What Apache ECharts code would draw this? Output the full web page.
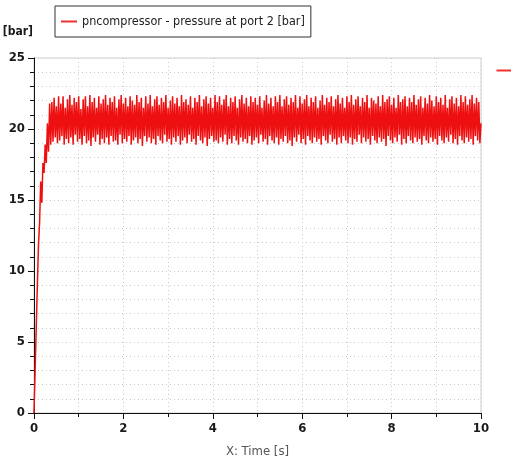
<!DOCTYPE html>
<html>
<head>
<meta charset="utf-8">
<script src="https://cdn.jsdelivr.net/npm/echarts@6/dist/echarts.min.js"></script>
<style>
  html, body { margin: 0; padding: 0; background: #fff; }
  #chart { width: 511px; height: 461px; }
</style>
</head>
<body>
<div id="chart"></div>
<script>
var seriesName = 'pncompressor - pressure at port 2 [bar]';
var yUnit = '[bar]';
var xTitle = 'X: Time [s]';
// sample step of the recorded signal [s]
var sampleStep = 0.025;
// start-up ramp, 0 .. 0.45 s
var rampPressure = [0, 3.0, 6.0, 9.0, 11.8, 13.4, 16.3, 14.8, 17.6, 16.9, 18.9, 17.6, 20.4, 18.4, 21.8, 18.9, 21.9, 19.1, 22.2];
// steady oscillation, 0.475 .. 10 s (low, high pairs)
var steadyPressure = [
  19.4,21.6, 19.0,22.3, 19.2,21.8, 19.5,22.3, 18.9,21.5, 19.3,22.1, 19.0,22.4, 19.4,21.7, 18.9,22.2,
  19.6,21.9, 19.1,22.3, 19.3,21.4, 18.9,22.1, 19.5,22.3, 19.0,21.6, 19.2,22.4, 18.8,21.9, 19.4,22.2, 19.1,21.5,
  19.6,22.3, 18.9,21.8, 19.3,22.1, 19.0,22.4, 19.4,21.7, 18.9,22.2, 19.5,21.9, 19.1,22.3, 19.2,21.5, 18.9,22.1,
  19.6,22.4, 19.0,21.8, 19.3,22.2, 19.1,21.6, 19.5,22.3, 18.9,22.0, 19.2,21.7, 19.4,22.4, 19.0,21.9, 19.3,22.2,
  18.8,21.5, 19.5,22.3, 19.1,21.8, 19.4,22.4, 19.0,21.6, 19.3,22.1, 18.9,22.3, 19.5,21.7, 19.2,22.2, 19.0,21.9,
  19.6,22.4, 19.1,21.5, 19.3,22.0, 18.9,22.3, 19.4,21.8, 19.1,22.2, 19.5,21.6, 18.9,22.4, 19.2,21.9, 19.4,22.1,
  19.0,21.7, 19.6,22.3, 19.1,21.5, 19.3,22.2, 18.9,21.9, 19.5,22.4, 19.2,21.6, 19.0,22.1, 19.4,22.3, 18.8,21.8,
  19.3,22.2, 19.5,21.5, 19.1,22.4, 19.2,21.9, 19.0,22.3, 19.4,21.7, 19.1,22.1, 19.6,22.4, 18.9,21.6, 19.3,22.2,
  19.0,21.9, 19.5,22.3, 19.2,21.5, 18.9,22.1, 19.4,22.4, 19.1,21.8, 19.3,22.2, 19.0,21.6, 19.5,22.3, 18.9,21.9,
  19.2,22.2, 19.4,21.7, 19.0,22.3, 19.6,21.5, 19.1,22.0, 19.3,22.4, 18.9,21.8, 19.5,22.2, 19.2,21.6, 19.0,22.3,
  19.4,21.9, 18.9,22.4, 19.3,21.6, 19.1,22.1, 19.5,22.3, 19.0,21.7, 19.2,22.2, 18.8,21.9, 19.4,22.4, 19.1,21.5,
  19.6,22.3, 19.0,21.8, 19.3,22.1, 18.9,22.4, 19.5,21.6, 19.2,22.2, 19.0,21.9, 19.4,22.3, 19.1,21.5, 19.3,22.0,
  18.9,22.4, 19.5,21.7, 19.2,22.2, 19.0,21.9, 19.6,22.3, 19.1,21.6, 19.3,22.1, 18.9,22.4, 19.4,21.8, 19.0,22.2,
  19.5,21.5, 19.2,22.3, 19.0,21.9, 19.4,22.4, 18.9,21.7, 19.3,22.1, 19.1,22.3, 19.6,21.6, 19.0,22.2, 19.4,21.9,
  19.1,22.4, 19.3,21.5, 18.9,22.2, 19.5,22.0, 19.2,21.8, 19.0,22.3, 19.4,21.6, 19.1,22.4, 19.3,21.9, 18.8,22.1,
  19.5,22.3, 19.2,21.7, 19.0,22.2, 19.4,21.5, 19.1,22.4, 19.6,21.9, 18.9,22.1, 19.3,22.3, 19.0,21.6, 19.5,22.2,
  19.2,21.9, 19.0,22.4, 19.4,21.7, 19.1,22.1, 19.3,22.3, 18.9,21.5, 19.5,22.2, 19.2,21.8, 19.0,22.4, 19.4,22.0,
  19.1,21.6, 19.3,22.3, 18.9,21.9, 19.5,22.2, 19.2,21.7, 19.0,22.4, 19.4,21.5, 19.1,22.1, 19.6,22.3, 19.0,21.8,
  19.3,22.2, 18.9,21.6, 19.5,22.4, 19.2,21.9, 19.0,22.3, 19.4,21.7, 19.1,22.1, 19.3,22.4, 18.9,21.8, 19.5,22.2,
  19.2,21.9, 19.0,20.4
];

var pressure = rampPressure.concat(steadyPressure);
var points = [];
for (var i = 0; i < pressure.length; i++) {
    points.push([+(i * sampleStep).toFixed(3), pressure[i]]);
}

var labelFont = "'DejaVu Sans Condensed','Liberation Sans Narrow',sans-serif";
var gridDot = { show: true, lineStyle: { color: '#cccccc', type: [1, 3], width: 1 } };

var chart = echarts.init(document.getElementById('chart'));
chart.setOption({
    animation: false,
    backgroundColor: '#fff',
    grid: {
        left: 34, right: 30, top: 58, bottom: 48,
        containLabel: false, outerBoundsMode: 'none',
        show: true, borderColor: '#cfcfcf', borderWidth: 1
    },
    legend: {
        left: 55, top: 6,
        padding: [9, 6, 9, 6],
        borderColor: '#333', borderWidth: 1,
        backgroundColor: '#fff',
        icon: 'rect', itemWidth: 16, itemHeight: 2, itemGap: 6,
        textStyle: { fontFamily: labelFont, fontSize: 12.5, color: '#222' },
        data: [seriesName]
    },
    xAxis: {
        type: 'value', min: 0, max: 10, interval: 2,
        name: xTitle, nameLocation: 'middle', nameGap: 32,
        nameTextStyle: { fontFamily: labelFont, fontSize: 13, color: '#555' },
        axisLine: { onZero: false, lineStyle: { color: '#111', width: 1 } },
        axisTick: { length: 6, lineStyle: { color: '#111' } },
        minorTick: { show: true, splitNumber: 2, length: 4, lineStyle: { color: '#111' } },
        axisLabel: { fontFamily: labelFont, fontSize: 13, fontWeight: 'bold', color: '#1a1a1a', margin: 9 },
        splitLine: gridDot,
        minorSplitLine: gridDot
    },
    yAxis: {
        type: 'value', min: 0, max: 25, interval: 5,
        name: yUnit, nameLocation: 'end', nameGap: 20,
        nameTextStyle: { fontFamily: labelFont, fontSize: 12, fontWeight: 'bold', color: '#1a1a1a', align: 'right', padding: [0, 1, 0, 0] },
        axisLine: { show: true, lineStyle: { color: '#111', width: 1 } },
        axisTick: { show: true, length: 6, lineStyle: { color: '#111' } },
        minorTick: { show: true, splitNumber: 5, length: 4, lineStyle: { color: '#111' } },
        axisLabel: { fontFamily: labelFont, fontSize: 13, fontWeight: 'bold', color: '#1a1a1a', margin: 9 },
        splitLine: gridDot,
        minorSplitLine: gridDot
    },
    graphic: [{
        type: 'line', left: 494, top: 68,
        shape: { x1: 0, y1: 0, x2: 17, y2: 0 },
        style: { stroke: '#f03030', lineWidth: 2 }
    }],
    series: [{
        name: seriesName,
        type: 'line',
        data: points,
        showSymbol: false,
        lineStyle: { color: '#ee1010', width: 1.5 },
        itemStyle: { color: '#ee3030' }
    }]
});
</script>
</body>
</html>
